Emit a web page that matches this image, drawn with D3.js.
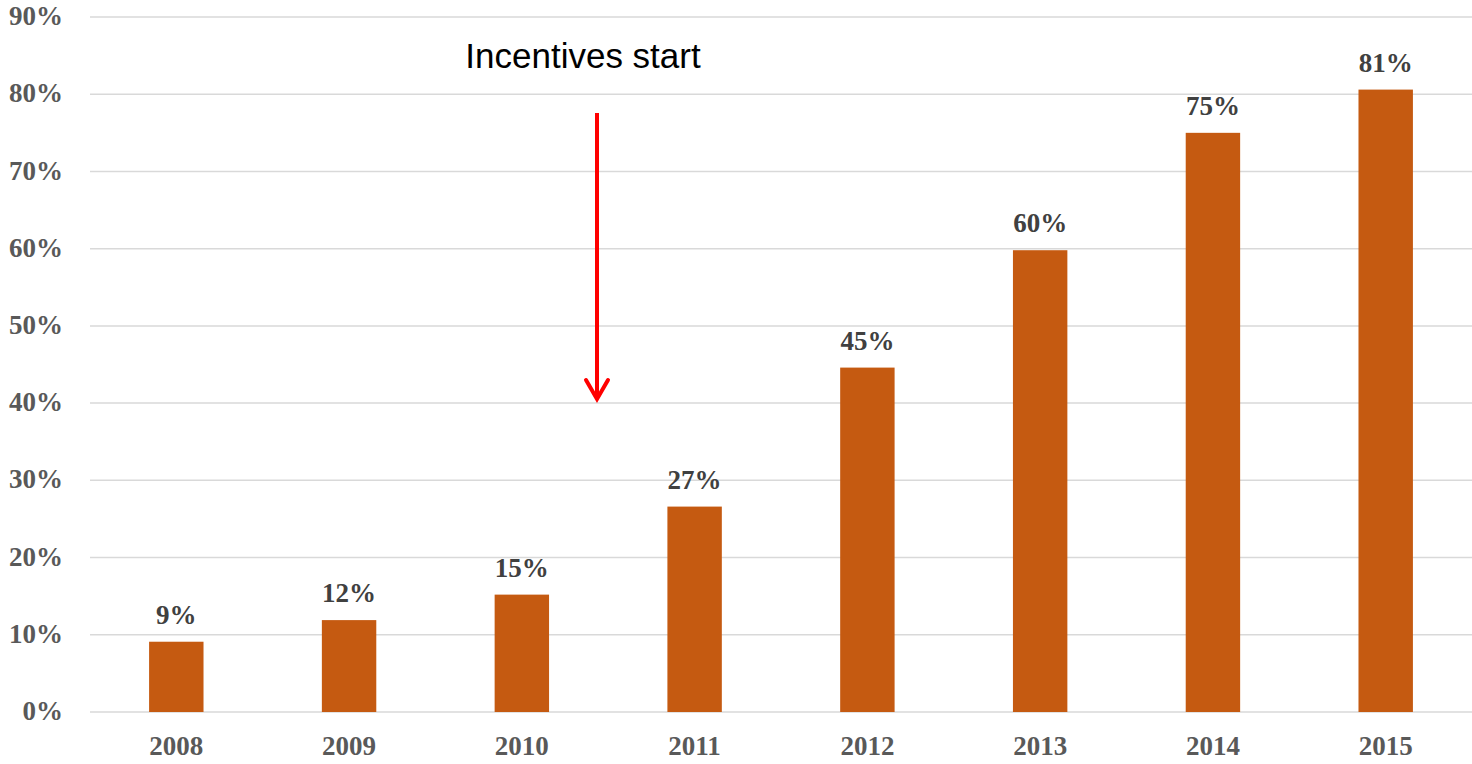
<!DOCTYPE html>
<html><head><meta charset="utf-8">
<script src="https://cdn.jsdelivr.net/npm/d3@7"></script>
<style>body{margin:0;background:#fff}</style>
</head><body>
<svg id="chart" width="1472" height="764"></svg>
<script>
const years = ["2008","2009","2010","2011","2012","2013","2014","2015"];
const values = [9.1, 11.9, 15.2, 26.6, 44.6, 59.8, 75.0, 80.6];
const labels = ["9%","12%","15%","27%","45%","60%","75%","81%"];
const yTicks = [0,10,20,30,40,50,60,70,80,90];
const annotation = "Incentives start";

(function () {
const svg = d3.select("#chart");
const mLeft = 90, mRight = 1472, mTop = 17, mBottom = 712;
const x = d3.scaleBand().domain(years).range([mLeft, mRight]).paddingInner(0.685).paddingOuter(0.342);
const y = d3.scaleLinear().domain([0, 90]).range([mBottom, mTop]);
const serif = "'Liberation Serif', 'Times New Roman', serif";

// gridlines
svg.append("g").selectAll("line").data(yTicks).join("line")
  .attr("x1", mLeft).attr("x2", mRight)
  .attr("y1", d => y(d)).attr("y2", d => y(d))
  .attr("stroke", "#d9d9d9").attr("stroke-width", 1.5);

// y tick labels
svg.append("g").selectAll("text").data(yTicks).join("text")
  .attr("x", 63).attr("y", d => y(d)).attr("dy", "0.3em")
  .attr("text-anchor", "end")
  .attr("font-family", serif)
  .attr("font-weight", "bold").attr("font-size", 27).attr("fill", "#595959")
  .text(d => d + "%");

// bars
svg.append("g").selectAll("rect").data(years).join("rect")
  .attr("x", d => x(d)).attr("width", x.bandwidth())
  .attr("y", (d, i) => y(values[i])).attr("height", (d, i) => y(0) - y(values[i]))
  .attr("fill", "#c55a11");

// data labels
svg.append("g").selectAll("text").data(years).join("text")
  .attr("x", d => x(d) + x.bandwidth() / 2)
  .attr("y", (d, i) => y(values[i]) - 18)
  .attr("text-anchor", "middle")
  .attr("font-family", serif)
  .attr("font-weight", "bold").attr("font-size", 27).attr("fill", "#404040")
  .text((d, i) => labels[i]);

// x labels
svg.append("g").selectAll("text").data(years).join("text")
  .attr("x", d => x(d) + x.bandwidth() / 2).attr("y", 755)
  .attr("text-anchor", "middle")
  .attr("font-family", serif)
  .attr("font-weight", "bold").attr("font-size", 27).attr("fill", "#595959")
  .text(d => d);

// annotation
svg.append("text").attr("x", 583).attr("y", 68).attr("text-anchor", "middle")
  .attr("font-family", "'Liberation Sans', Arial, sans-serif")
  .attr("font-size", 35).attr("fill", "#000").text(annotation);

const ax = 597;
svg.append("line").attr("x1", ax).attr("x2", ax).attr("y1", 113).attr("y2", 398)
  .attr("stroke", "#ff0000").attr("stroke-width", 4);
svg.append("path").attr("d", `M${ax-11},${380} L${ax},${399} L${ax+11},${380}`)
  .attr("fill", "none").attr("stroke", "#ff0000").attr("stroke-width", 4)
  .attr("stroke-linecap", "round").attr("stroke-linejoin", "miter");
})();
</script>
</body></html>
